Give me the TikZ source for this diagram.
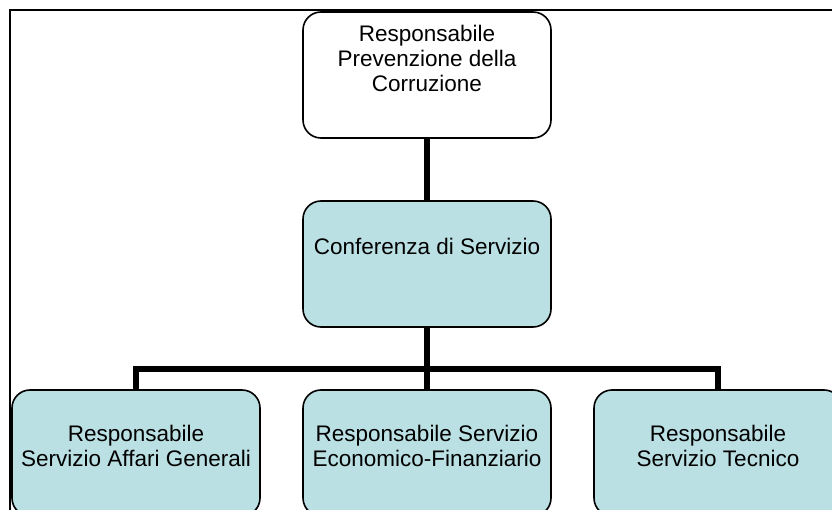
\documentclass[tikz,border=0pt]{standalone}
\usepackage{fontspec}
\setmainfont{Liberation Sans}
\usepackage{tikz}
\usetikzlibrary{calc}
\definecolor{boxblue}{RGB}{186,224,228}
\newcommand{\boxtext}[2]{\parbox[c][126pt][t]{248pt}{\centering\vspace*{#1}#2\par}}

\begin{document}
\begin{tikzpicture}[
			x = 1pt, y = -1pt,
			every node/.style = {draw, rounded corners = 18pt, line width = 1.6pt, inner sep = 0pt,
				font = \fontsize{22.5}{25}\selectfont},
			chief/.style = {fill = white},
			office/.style = {fill = boxblue},
			link/.style = {line width = 6pt}]
			\clip (0,0) rectangle (832,510);
			% frame of the page
			\draw[line width = 2pt] (10,530) -- (10,10) -- (850,10);

			\node[chief] (rpc) at (427,75) {\boxtext{13.6pt}{Responsabile\\Prevenzione della\\Corruzione}};
			\node[office] (cds) at (427,264) {\boxtext{37.6pt}{Conferenza di Servizio}};
			\node[office] (sag) at (136,453) {\boxtext{35.6pt}{Responsabile\\Servizio Affari Generali}};
			\node[office] (sef) at (427,453) {\boxtext{35.6pt}{Responsabile Servizio\\Economico-Finanziario}};
			\node[office] (stc) at (718,453) {\boxtext{35.6pt}{Responsabile\\Servizio Tecnico}};

			% Links
			\coordinate (bus) at (427,369);
			\draw[link] (rpc) -- (cds);
			\draw[link] (cds) -- (sef);
			\draw[link] (sag.north) |- (bus) -| (stc.north);
		\end{tikzpicture}
\end{document}
